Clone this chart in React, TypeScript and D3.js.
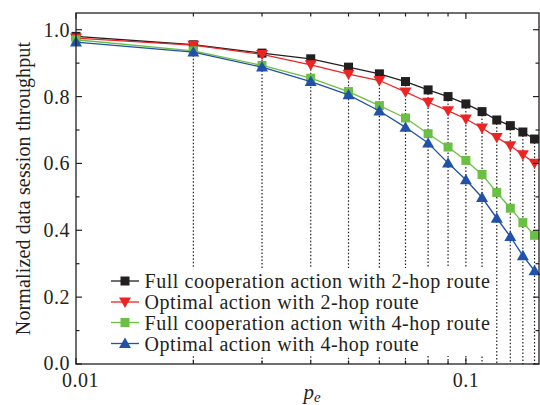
import * as d3 from 'd3';

const pe = [0.01, 0.02, 0.03, 0.04, 0.05, 0.06, 0.07, 0.08, 0.09, 0.1, 0.11, 0.12, 0.13, 0.14, 0.15];
const fullCoop2 = [0.980, 0.955, 0.930, 0.913, 0.888, 0.868, 0.845, 0.820, 0.800, 0.778, 0.755, 0.730, 0.713, 0.694, 0.673];
const optimal2 = [0.975, 0.954, 0.926, 0.895, 0.867, 0.848, 0.814, 0.783, 0.758, 0.733, 0.706, 0.678, 0.653, 0.626, 0.601];
const fullCoop4 = [0.970, 0.937, 0.893, 0.855, 0.815, 0.773, 0.736, 0.689, 0.649, 0.609, 0.567, 0.513, 0.466, 0.423, 0.385];
const optimal4 = [0.963, 0.933, 0.888, 0.845, 0.805, 0.757, 0.708, 0.661, 0.601, 0.551, 0.498, 0.436, 0.381, 0.324, 0.279];

const seriesNames = [
  'Full cooperation action with 2-hop route',
  'Optimal action with 2-hop route',
  'Full cooperation action with 4-hop route',
  'Optimal action with 4-hop route',
];
const seriesColors = ['#231f20', '#ee2424', '#6cbf45', '#1f52a8'];
const seriesMarkers = ['square', 'down', 'square', 'up'];
const seriesValues = [fullCoop2, optimal2, fullCoop4, optimal4];

const yTicks = [0, 0.2, 0.4, 0.6, 0.8, 1.0];
const yMinor = [0.1, 0.3, 0.5, 0.7, 0.9];
const xMajor = [0.01, 0.1];
const xMinor = [0.02, 0.03, 0.04, 0.05, 0.06, 0.07, 0.08, 0.09];

const W = 540;
const H = 405;
const m = { left: 76, right: 539, top: 13, bottom: 364 };
const font = '"Liberation Serif", "Times New Roman", serif';

const x = d3.scaleLog().domain([0.01, 0.154]).range([m.left, m.right]);
const y = d3.scaleLinear().domain([0, 1.05]).range([m.bottom, m.top]);

const Marker = ({ type, cx, cy, color }: { type: string; cx: number; cy: number; color: string }) => {
  if (type === 'square') {
    return <rect x={cx - 4.5} y={cy - 4.5} width={9} height={9} fill={color} />;
  }
  const sym = d3.symbol().type(d3.symbolTriangle).size(62)();
  const rot = type === 'down' ? 180 : 0;
  return <path d={sym ?? ''} transform={`translate(${cx},${cy + (type === 'down' ? -1 : 1)}) rotate(${rot})`} fill={color} />;
};

export default function App() {
  const line = d3.line<number>()
    .x((_, i) => x(pe[i]))
    .y((d) => y(d));

  const axisColor = '#231f20';
  const legendRows = [281, 302, 322.5, 343.5];

  return (
    <svg width={W} height={H} style={{ position: 'absolute', left: 0, top: 0, background: '#fff' }} fontFamily={font}>
      {/* dotted drop lines */}
      {pe.slice(1).map((p, i) => (
        <line key={`d${p}`} x1={x(p)} x2={x(p)} y1={y(fullCoop2[i + 1])} y2={m.bottom}
          stroke="#231f20" strokeWidth={1.2} strokeDasharray="1.5,2" />
      ))}

      {/* legend background */}
      <rect x={105} y={268} width={385} height={88} fill="#fff" />

      {/* series */}
      {seriesValues.map((vals, s) => (
        <g key={seriesNames[s]}>
          <path d={line(vals) ?? ''} fill="none" stroke={seriesColors[s]} strokeWidth={1.3} />
          {vals.map((v, i) => (
            <Marker key={i} type={seriesMarkers[s]} cx={x(pe[i])} cy={y(v)} color={seriesColors[s]} />
          ))}
        </g>
      ))}

      {/* frame */}
      <rect x={m.left} y={m.top} width={m.right - m.left} height={m.bottom - m.top}
        fill="none" stroke={axisColor} strokeWidth={1.3} />

      {/* y ticks */}
      {yTicks.map((t) => (
        <g key={`y${t}`}>
          <line x1={m.left} x2={m.left + 6} y1={y(t)} y2={y(t)} stroke={axisColor} strokeWidth={1.2} />
          <line x1={m.right} x2={m.right - 6} y1={y(t)} y2={y(t)} stroke={axisColor} strokeWidth={1.2} />
          <text x={m.left - 6} y={y(t) - (t === 0 ? 1 : 0)} textAnchor="end" dominantBaseline="central" fontSize={20}
            letterSpacing={0.5} fill="#231f20">
            {d3.format('.1f')(t)}
          </text>
        </g>
      ))}
      {yMinor.map((t) => (
        <g key={`ym${t}`}>
          <line x1={m.left} x2={m.left + 3.5} y1={y(t)} y2={y(t)} stroke={axisColor} strokeWidth={1.2} />
          <line x1={m.right} x2={m.right - 3.5} y1={y(t)} y2={y(t)} stroke={axisColor} strokeWidth={1.2} />
        </g>
      ))}

      {/* x ticks */}
      {xMajor.map((t) => (
        <g key={`x${t}`}>
          <line x1={x(t)} x2={x(t)} y1={m.bottom} y2={m.bottom - 6} stroke={axisColor} strokeWidth={1.2} />
          <line x1={x(t)} x2={x(t)} y1={m.top} y2={m.top + 6} stroke={axisColor} strokeWidth={1.2} />
          <text x={x(t) + (t === 0.01 ? 4.5 : 0)} y={m.bottom + 16} textAnchor="middle" dominantBaseline="central"
            fontSize={20} letterSpacing={0.5} fill="#231f20">
            {String(t)}
          </text>
        </g>
      ))}
      {xMinor.map((t) => (
        <g key={`xm${t}`}>
          <line x1={x(t)} x2={x(t)} y1={m.bottom} y2={m.bottom - 3.5} stroke={axisColor} strokeWidth={1.2} />
          <line x1={x(t)} x2={x(t)} y1={m.top} y2={m.top + 3.5} stroke={axisColor} strokeWidth={1.2} />
        </g>
      ))}

      {/* axis titles */}
      <text x={312} y={399} textAnchor="middle" fontSize={21} fontStyle="italic" fill="#231f20">
        p<tspan fontSize={15} dy={3}>e</tspan>
      </text>
      <text transform={`translate(23,${(m.top + m.bottom) / 2}) rotate(-90)`} textAnchor="middle"
        dominantBaseline="central" fontSize={20} letterSpacing={0.15} fill="#231f20">
        Normalized data session throughput
      </text>

      {/* legend */}
      {seriesNames.map((name, s) => (
        <g key={`l${s}`}>
          <line x1={111} x2={139} y1={legendRows[s]} y2={legendRows[s]} stroke={seriesColors[s]} strokeWidth={1.3} />
          <Marker type={seriesMarkers[s]} cx={125} cy={legendRows[s]} color={seriesColors[s]} />
          <text x={144.5} y={legendRows[s]} dominantBaseline="central" fontSize={20} letterSpacing={0.55}
            fill="#231f20">{name}</text>
        </g>
      ))}
    </svg>
  );
}
